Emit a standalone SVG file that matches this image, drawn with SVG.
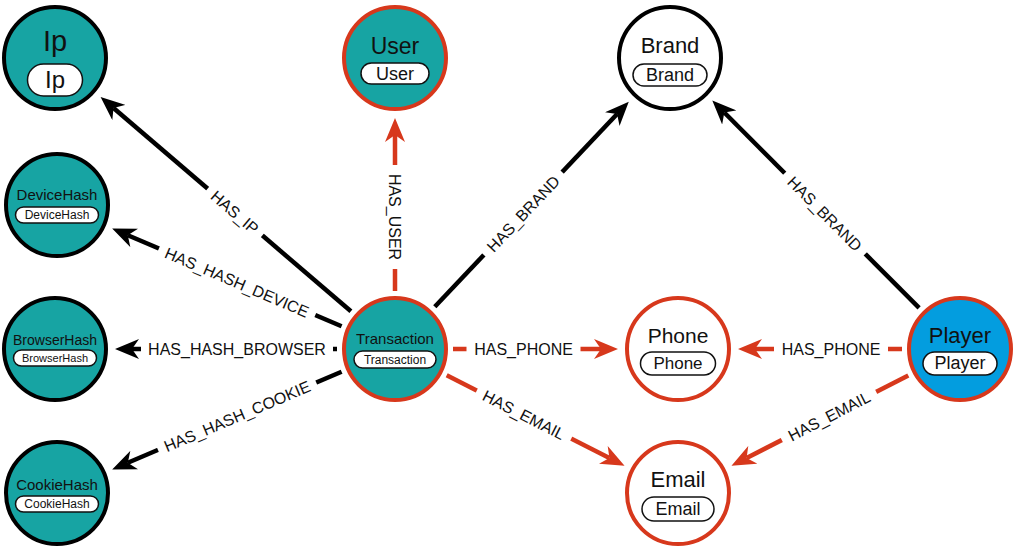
<svg xmlns="http://www.w3.org/2000/svg" width="1016" height="552" viewBox="0 0 1016 552">
<style>
text{font-family:"Liberation Sans",Arial,sans-serif;text-anchor:middle;fill:#111}
.node{stroke-width:4}
.teal{fill:#17a4a3}
.white{fill:#fff}
.blue{fill:#039ddf}
.bk{stroke:#000}
.rd{stroke:#d7381c}
.pill{fill:#fff;stroke:#111;stroke-width:1.5}
.e{stroke-width:4.5;fill:none}
.eb{stroke:#000;marker-end:url(#ab)}
.er{stroke:#d7381c;marker-end:url(#ar)}
.lbg{fill:#fff}
.lbl{font-size:16px}
</style>
<defs>
<marker id="ab" markerUnits="userSpaceOnUse" viewBox="0 0 24 20" refX="7" refY="10" markerWidth="24" markerHeight="20" orient="auto"><path d="M0,0 L24,10 L0,20 L7,10 z" fill="#000"/></marker>
<marker id="ar" markerUnits="userSpaceOnUse" viewBox="0 0 24 20" refX="7" refY="10" markerWidth="24" markerHeight="20" orient="auto"><path d="M0,0 L24,10 L0,20 L7,10 z" fill="#d7381c"/></marker>
</defs>
<g id="edges">
<line class="e eb" x1="350.9" y1="311.3" x2="113.5" y2="108.0"/>
<line class="e eb" x1="341.6" y1="326.3" x2="127.8" y2="235.2"/>
<line class="e eb" x1="337" y1="349" x2="132" y2="349"/>
<line class="e eb" x1="341.6" y1="371.7" x2="127.8" y2="462.8"/>
<line class="e er" x1="395" y1="291" x2="395" y2="135"/>
<line class="e eb" x1="434.8" y1="306.8" x2="617.1" y2="114.0"/>
<line class="e er" x1="453" y1="349" x2="601" y2="349"/>
<line class="e er" x1="446.7" y1="375.3" x2="609.4" y2="458.1"/>
<line class="e eb" x1="919.1" y1="307.9" x2="724.3" y2="112.5"/>
<line class="e er" x1="902" y1="349" x2="755" y2="349"/>
<line class="e er" x1="908.3" y1="375.4" x2="746.6" y2="458.0"/>
<g transform="translate(235,212) rotate(40.56)"><rect class="lbg" x="-36" y="-6" width="72" height="12"/><text class="lbl" y="6">HAS_IP</text></g>
<g transform="translate(237,282) rotate(23.07)"><rect class="lbg" x="-85" y="-6" width="170" height="12"/><text class="lbl" y="6">HAS_HASH_DEVICE</text></g>
<g transform="translate(237,349)"><rect class="lbg" x="-96" y="-6" width="192" height="12"/><text class="lbl" y="6">HAS_HASH_BROWSER</text></g>
<g transform="translate(237,416) rotate(-23.07)"><rect class="lbg" x="-86" y="-6" width="172" height="12"/><text class="lbl" y="6">HAS_HASH_COOKIE</text></g>
<g transform="translate(395,217) rotate(90)"><rect class="lbg" x="-52" y="-6" width="104" height="12"/><text class="lbl" y="6">HAS_USER</text></g>
<g transform="translate(523,213.5) rotate(-46.62)"><rect class="lbg" x="-57" y="-6" width="114" height="12"/><text class="lbl" y="6">HAS_BRAND</text></g>
<g transform="translate(523.5,349)"><rect class="lbg" x="-57" y="-6" width="114" height="12"/><text class="lbl" y="6">HAS_PHONE</text></g>
<g transform="translate(524,414.6) rotate(26.97)"><rect class="lbg" x="-53" y="-6" width="106" height="12"/><text class="lbl" y="6">HAS_EMAIL</text></g>
<g transform="translate(825,213.5) rotate(45.1)"><rect class="lbg" x="-57" y="-6" width="114" height="12"/><text class="lbl" y="6">HAS_BRAND</text></g>
<g transform="translate(831,349)"><rect class="lbg" x="-57" y="-6" width="114" height="12"/><text class="lbl" y="6">HAS_PHONE</text></g>
<g transform="translate(829,415.9) rotate(-27.05)"><rect class="lbg" x="-53" y="-6" width="106" height="12"/><text class="lbl" y="6">HAS_EMAIL</text></g>
</g>
<g id="node-ip">
<circle class="node teal bk" cx="55" cy="58" r="51"/>
<text x="55" y="51" font-size="29">Ip</text>
<rect class="pill" x="27.5" y="64" width="55" height="32" rx="16"/>
<text x="55" y="88" font-size="24">Ip</text>
</g>
<g id="node-user">
<circle class="node teal rd" cx="395" cy="58" r="51"/>
<text x="395" y="54" font-size="23">User</text>
<rect class="pill" x="361" y="63" width="68" height="21" rx="10.5"/>
<text x="395" y="80" font-size="18">User</text>
</g>
<g id="node-brand">
<circle class="node white bk" cx="670" cy="58" r="51"/>
<text x="670" y="53" font-size="22">Brand</text>
<rect class="pill" x="633" y="64" width="74" height="22" rx="11"/>
<text x="670" y="81" font-size="18">Brand</text>
</g>
<g id="node-devicehash">
<circle class="node teal bk" cx="57" cy="205" r="51"/>
<text x="57" y="200" font-size="15">DeviceHash</text>
<rect class="pill" x="15.5" y="207" width="83" height="16" rx="8"/>
<text x="57" y="219" font-size="12">DeviceHash</text>
</g>
<g id="node-browserhash">
<circle class="node teal bk" cx="55" cy="349" r="51"/>
<text x="55" y="345" font-size="14">BrowserHash</text>
<rect class="pill" x="13.5" y="350" width="83" height="16" rx="8"/>
<text x="55" y="362" font-size="11">BrowserHash</text>
</g>
<g id="node-cookiehash">
<circle class="node teal bk" cx="57" cy="493" r="51"/>
<text x="57" y="490" font-size="15">CookieHash</text>
<rect class="pill" x="15.5" y="496" width="83" height="16" rx="8"/>
<text x="57" y="508" font-size="12">CookieHash</text>
</g>
<g id="node-transaction">
<circle class="node teal rd" cx="395" cy="349" r="51"/>
<text x="395" y="344" font-size="15">Transaction</text>
<rect class="pill" x="354" y="351" width="82" height="17" rx="8.5"/>
<text x="395" y="364" font-size="12">Transaction</text>
</g>
<g id="node-phone">
<circle class="node white rd" cx="678" cy="349" r="51"/>
<text x="678" y="343" font-size="21">Phone</text>
<rect class="pill" x="640.5" y="352" width="75" height="23" rx="11.5"/>
<text x="678" y="369" font-size="17">Phone</text>
</g>
<g id="node-player">
<circle class="node blue rd" cx="960" cy="349" r="51"/>
<text x="960" y="343" font-size="22">Player</text>
<rect class="pill" x="923" y="352" width="74" height="23" rx="11.5"/>
<text x="960" y="369" font-size="18">Player</text>
</g>
<g id="node-email">
<circle class="node white rd" cx="678" cy="493" r="51"/>
<text x="678" y="487" font-size="22">Email</text>
<rect class="pill" x="642" y="497" width="72" height="24" rx="12"/>
<text x="678" y="515" font-size="18">Email</text>
</g>
</svg>
